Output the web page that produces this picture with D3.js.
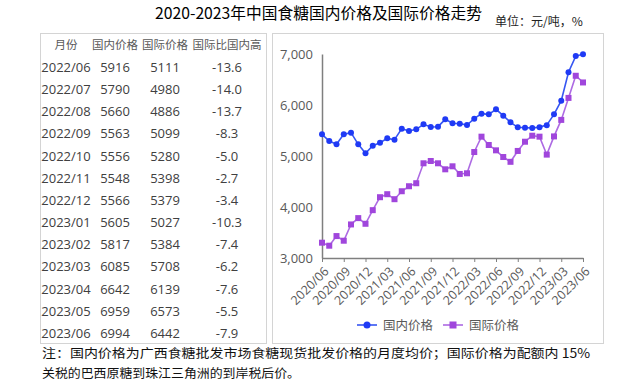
<!doctype html>
<html lang="zh">
<head>
<meta charset="utf-8"/>
<title>2020-2023年中国食糖国内价格及国际价格走势</title>
<script src="https://d3js.org/d3.v7.min.js"></script>
<style>
    body { margin: 0; padding: 0; background: #fff; }
    svg { display: block; }
    .sans { font-family: "Open Sans", "Noto Sans CJK SC", sans-serif; }
    .cjk { font-family: "Noto Sans CJK SC", sans-serif; }
</style>
</head>
<body>
<script>
    // 月份（图表横轴）
    const months = [
        '2020/06', '2020/07', '2020/08', '2020/09', '2020/10', '2020/11', '2020/12',
        '2021/01', '2021/02', '2021/03', '2021/04', '2021/05', '2021/06', '2021/07',
        '2021/08', '2021/09', '2021/10', '2021/11', '2021/12', '2022/01', '2022/02',
        '2022/03', '2022/04', '2022/05', '2022/06', '2022/07', '2022/08', '2022/09',
        '2022/10', '2022/11', '2022/12', '2023/01', '2023/02', '2023/03', '2023/04',
        '2023/05', '2023/06'
    ]
    // 国内价格 (元/吨)
    const domestic = [
        5425, 5294, 5229, 5425, 5458, 5229, 5052,
        5203, 5261, 5346, 5320, 5536, 5490, 5523,
        5621, 5569, 5575, 5719, 5641, 5634, 5608,
        5732, 5830, 5817, 5916, 5790, 5660, 5563,
        5556, 5548, 5566, 5605, 5817, 6085, 6642,
        6959, 6994
    ]
    // 国际价格 (元/吨)
    const international = [
        3300, 3241, 3430, 3339, 3658, 3782, 3671,
        3938, 4192, 4251, 4153, 4309, 4407, 4466,
        4857, 4902, 4857, 4739, 4798, 4648, 4661,
        5078, 5379, 5216, 5111, 4980, 4886, 5099,
        5280, 5398, 5379, 5027, 5384, 5708, 6139,
        6573, 6442
    ]
    const xTicks = ['2020/06', '2020/09', '2020/12', '2021/03', '2021/06', '2021/09', '2021/12',
        '2022/03', '2022/06', '2022/09', '2022/12', '2023/03', '2023/06']
    const yTicks = [3000, 4000, 5000, 6000, 7000]

    // 表格
    const tableHeader = ['月份', '国内价格', '国际价格', '国际比国内高']
    const tableMonths = ['2022/06', '2022/07', '2022/08', '2022/09', '2022/10', '2022/11', '2022/12',
        '2023/01', '2023/02', '2023/03', '2023/04', '2023/05', '2023/06']
    const tableDomestic = [5916, 5790, 5660, 5563, 5556, 5548, 5566, 5605, 5817, 6085, 6642, 6959, 6994]
    const tableIntl = [5111, 4980, 4886, 5099, 5280, 5398, 5379, 5027, 5384, 5708, 6139, 6573, 6442]
    const tableDiff = ['-13.6', '-14.0', '-13.7', '-8.3', '-5.0', '-2.7', '-3.4',
        '-10.3', '-7.4', '-6.2', '-7.6', '-5.5', '-7.9']

    const blueLine = '#3656f2', blueDot = '#1f3af5'
    const purpleLine = '#ad6ae3', purpleDot = '#a046dc'
    const textGray = '#404040', axisText = '#595959'

    const svg = d3.select('body').append('svg')
        .attr('width', 640).attr('height', 389)

    svg.append('rect').attr('width', 640).attr('height', 389).attr('fill', '#fff')

    // 标题
    svg.append('text').attr('class', 'cjk')
        .attr('x', 155).attr('y', 19)
        .attr('font-size', 15.5).attr('fill', '#000')
        .attr('textLength', 327).attr('lengthAdjust', 'spacingAndGlyphs')
        .text('2020-2023年中国食糖国内价格及国际价格走势')

    svg.append('text').attr('class', 'cjk')
        .attr('x', 495).attr('y', 26)
        .attr('font-size', 12).attr('fill', '#222')
        .text('单位：元/吨，%')

    // 两个框
    svg.append('rect').attr('x', 40.5).attr('y', 33.5).attr('width', 226).attr('height', 310)
        .attr('fill', 'none').attr('stroke', '#d4d4d4')
    svg.append('rect').attr('x', 272.5).attr('y', 33.5).attr('width', 331).attr('height', 310)
        .attr('fill', 'none').attr('stroke', '#d4d4d4')

    // 表格内容
    const colX = [66, 115, 165, 227]
    const rowY = d3.scaleLinear().domain([0, 13]).range([45, 45 + 13 * 22.17])

    svg.append('g').selectAll('text')
        .data(tableHeader)
        .join('text')
        .attr('class', 'cjk')
        .attr('x', (d, i) => colX[i])
        .attr('y', rowY(0))
        .attr('dy', '0.36em')
        .attr('text-anchor', 'middle')
        .attr('font-size', 11.5)
        .attr('fill', axisText)
        .text(d => d)

    const rows = tableMonths.map((m, i) => [m, tableDomestic[i], tableIntl[i], tableDiff[i]])
    const rowG = svg.append('g').selectAll('g')
        .data(rows)
        .join('g')
        .attr('transform', (d, i) => `translate(0,${rowY(i + 1)})`)
    rowG.selectAll('text')
        .data(d => d)
        .join('text')
        .attr('class', 'sans')
        .attr('x', (d, i) => colX[i])
        .attr('dy', '0.36em')
        .attr('text-anchor', 'middle')
        .attr('font-size', 13)
        .attr('fill', textGray)
        .text(d => d)

    // 折线图
    const x = d3.scalePoint().domain(months).range([322, 583])
    const y = d3.scaleLinear().domain([3000, 7000]).range([258, 54])

    const yAxis = svg.append('g')
        .attr('transform', 'translate(322,0)')
        .call(d3.axisLeft(y).tickValues(yTicks).tickSize(0).tickPadding(9).tickFormat(d3.format(',')))
    yAxis.select('.domain').attr('stroke', '#7f7f7f').attr('stroke-width', 1.5)
    yAxis.selectAll('text').attr('class', 'sans').attr('font-size', 13).attr('fill', axisText)

    const xAxis = svg.append('g')
        .attr('transform', 'translate(0,258)')
        .call(d3.axisBottom(x).tickValues(xTicks).tickSize(4).tickSizeOuter(0))
    xAxis.select('.domain').attr('stroke', '#7f7f7f').attr('stroke-width', 1.5)
    xAxis.selectAll('.tick line').attr('stroke', '#7f7f7f')
    xAxis.selectAll('text')
        .attr('class', 'sans')
        .attr('font-size', 12.5)
        .attr('fill', axisText)
        .attr('text-anchor', 'end')
        .attr('x', 0).attr('y', 0).attr('dy', '0.35em')
        .attr('transform', 'translate(4,11) rotate(-45)')

    const line = d3.line().x((d, i) => x(months[i])).y(d => y(d))

    svg.append('path').datum(international)
        .attr('d', line).attr('fill', 'none')
        .attr('stroke', purpleLine).attr('stroke-width', 1.6)
    svg.append('g').selectAll('rect')
        .data(international)
        .join('rect')
        .attr('x', (d, i) => x(months[i]) - 3)
        .attr('y', d => y(d) - 3)
        .attr('width', 6).attr('height', 6)
        .attr('fill', purpleDot)

    svg.append('path').datum(domestic)
        .attr('d', line).attr('fill', 'none')
        .attr('stroke', blueLine).attr('stroke-width', 1.6)
    svg.append('g').selectAll('circle')
        .data(domestic)
        .join('circle')
        .attr('cx', (d, i) => x(months[i]))
        .attr('cy', d => y(d))
        .attr('r', 3)
        .attr('fill', blueDot)

    // 图例
    const legend = [
        {name: '国内价格', x: 357, line: blueLine, dot: blueDot, shape: 'circle'},
        {name: '国际价格', x: 443, line: purpleLine, dot: purpleDot, shape: 'square'}
    ]
    const lg = svg.append('g').selectAll('g')
        .data(legend)
        .join('g')
        .attr('transform', d => `translate(${d.x},325)`)
    lg.append('line').attr('x1', 0).attr('x2', 20)
        .attr('stroke', d => d.line).attr('stroke-width', 1.6)
    lg.each(function (d) {
        const g = d3.select(this)
        if (d.shape === 'circle') {
            g.append('circle').attr('cx', 10).attr('r', 3.5).attr('fill', d.dot)
        } else {
            g.append('rect').attr('x', 6.5).attr('y', -3.5).attr('width', 7).attr('height', 7).attr('fill', d.dot)
        }
    })
    lg.append('text').attr('class', 'cjk')
        .attr('x', 26).attr('dy', '0.36em')
        .attr('font-size', 12.5).attr('fill', axisText)
        .text(d => d.name)

    // 注释
    const notes = ['注：国内价格为广西食糖批发市场食糖现货批发价格的月度均价；国际价格为配额内 15%',
        '关税的巴西原糖到珠江三角洲的到岸税后价。']
    svg.append('g').selectAll('text')
        .data(notes)
        .join('text')
        .attr('class', 'cjk')
        .attr('x', 42)
        .attr('y', (d, i) => 358 + i * 20)
        .attr('font-size', 12.5)
        .attr('fill', '#111')
        .attr('textLength', (d, i) => i === 0 ? 548 : 258)
        .attr('lengthAdjust', 'spacingAndGlyphs')
        .text(d => d)
</script>
</body>
</html>
